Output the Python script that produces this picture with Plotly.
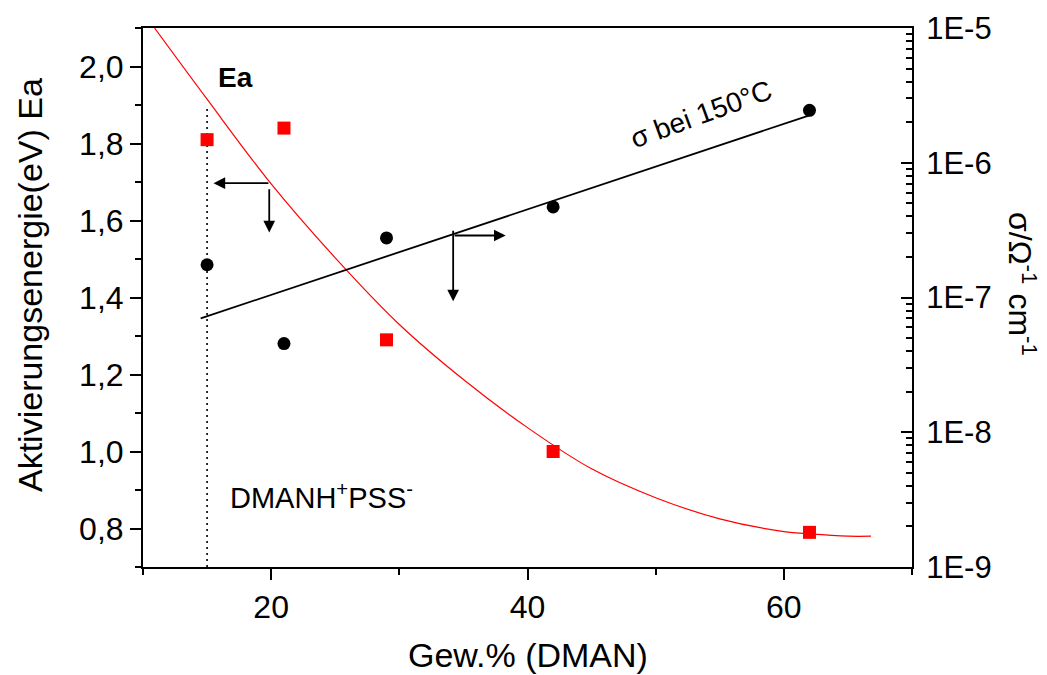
import plotly.graph_objects as go

# ---- data ----
gew = [15, 21, 29, 42, 62]                       # Gew.% (DMAN)
ea_vals = [1.81, 1.84, 1.29, 1.00, 0.79]          # Aktivierungsenergie (eV)
sigma_vals = [1.75e-7, 4.55e-8, 2.77e-7, 4.7e-7, 2.45e-6]  # sigma at 150 C

# red fit curve
ea_fit_x = [10.9, 15, 20, 25, 30, 35, 40, 45, 50, 55, 60, 62, 65, 66.8]
ea_fit_y = [2.10, 1.915, 1.695, 1.503, 1.330, 1.187, 1.062, 0.955, 0.880, 0.825, 0.792, 0.786, 0.780, 0.780]

# black fit line (log scale)
sig_fit_x = [14.5, 62]
sig_fit_y = [7.0e-8, 2.25e-6]

# dotted marker line at 15 %
dot_x = [15, 15]
dot_y = [0.70, 1.89]

x_major = [20, 40, 60]
x_minor = [10, 30, 50, 70]
y2_ticks = [1e-9, 1e-8, 1e-7, 1e-6, 1e-5]
y2_text = ["1E-9", "1E-8", "1E-7", "1E-6", "1E-5"]
y2_minor = [k * 10.0 ** e for e in range(-9, -5) for k in range(2, 10)]

FONT = "Liberation Sans, Arial, sans-serif"

fig = go.Figure()

fig.add_trace(go.Scatter(x=dot_x, y=dot_y, mode="lines",
                         line=dict(color="black", width=1.6, dash="2px,4px"),
                         showlegend=False, hoverinfo="skip"))
fig.add_trace(go.Scatter(x=ea_fit_x, y=ea_fit_y, mode="lines",
                         line=dict(color="red", width=1.2, shape="spline"),
                         showlegend=False))
fig.add_trace(go.Scatter(x=gew, y=ea_vals, mode="markers",
                         marker=dict(symbol="square", color="red", size=13),
                         showlegend=False))
fig.add_trace(go.Scatter(x=sig_fit_x, y=sig_fit_y, mode="lines", yaxis="y2",
                         line=dict(color="black", width=1.8),
                         showlegend=False))
fig.add_trace(go.Scatter(x=gew, y=sigma_vals, mode="markers", yaxis="y2",
                         marker=dict(symbol="circle", color="black", size=13),
                         showlegend=False))

C = dict(xanchor="center", yanchor="middle", showarrow=False)
annotations = [
    dict(x=17.25, y=1.972, xref="x", yref="y", text="<b>Ea</b>",
         font=dict(size=28, family=FONT, color="black"), **C),
    dict(x=16.6, y=0.885, xref="x", yref="y", xanchor="left", yanchor="middle",
         text="DMANH<sup>+</sup>PSS<sup>-</sup>", showarrow=False,
         font=dict(size=29, family=FONT, color="black")),
    dict(x=53.5, y=1.875, xref="x", yref="y", text="σ bei 150°C", textangle=-20,
         font=dict(size=28, family=FONT, color="black"), **C),
    # axis titles
    dict(x=(30 - 143) / 769, y=(567 - 285) / 539, xref="paper", yref="paper",
         text="Aktivierungsenergie(eV) Ea", textangle=-90,
         font=dict(size=34, family=FONT, color="black"), **C),
    dict(x=(1022 - 143) / 769, y=(567 - 284) / 539, xref="paper", yref="paper",
         text="σ/Ω<sup>-1</sup> cm<sup>-1</sup>", textangle=90,
         font=dict(size=32, family=FONT, color="black"), **C),
    dict(x=0.5, y=(567 - 655) / 539, xref="paper", yref="paper",
         text="Gew.% (DMAN)",
         font=dict(size=34, family=FONT, color="black"), **C),
]

# arrows (tail -> head), in data coordinates
arrows = [
    ((19.9, 1.697), (15.5, 1.697)),
    ((19.85, 1.685), (19.85, 1.569)),
    ((34.2, 1.561), (38.3, 1.561)),
    ((34.2, 1.577), (34.2, 1.390)),
]
for (tx, ty), (hx, hy) in arrows:
    annotations.append(dict(x=hx, y=hy, ax=tx, ay=ty, xref="x", yref="y",
                            axref="x", ayref="y", text="", showarrow=True,
                            arrowhead=2, arrowsize=1.3, arrowwidth=1.8,
                            arrowcolor="black"))

fig.update_layout(
    width=1047, height=675,
    margin=dict(l=143, r=135, t=28, b=108),
    paper_bgcolor="white", plot_bgcolor="white",
    separators=",.",
    font=dict(family=FONT, color="black"),
    annotations=annotations,
    xaxis=dict(range=[10, 70], tickmode="array", tickvals=x_major,
               ticks="outside", ticklen=11, tickwidth=2, tickcolor="black",
               minor=dict(tickmode="array", tickvals=x_minor, ticks="outside",
                          ticklen=6, tickwidth=2, tickcolor="black"),
               showline=True, linecolor="black", linewidth=2, mirror=True,
               showgrid=False, zeroline=False,
               tickfont=dict(size=32, family=FONT, color="black")),
    yaxis=dict(range=[0.7, 2.1], tickmode="linear", tick0=0, dtick=0.2,
               tickformat=".1f",
               ticks="outside", ticklen=11, tickwidth=2, tickcolor="black",
               minor=dict(dtick=0.1, tick0=0, ticks="outside", ticklen=6,
                          tickwidth=2, tickcolor="black"),
               showline=True, linecolor="black", linewidth=2,
               showgrid=False, zeroline=False,
               tickfont=dict(size=32, family=FONT, color="black")),
    yaxis2=dict(type="log", range=[-9, -5], overlaying="y", side="right",
                tickmode="array", tickvals=y2_ticks, ticktext=y2_text,
                ticks="inside", ticklen=11, tickwidth=2, tickcolor="black",
                minor=dict(tickmode="array", tickvals=y2_minor, ticks="inside",
                           ticklen=6, tickwidth=2, tickcolor="black"),
                showline=True, linecolor="black", linewidth=2,
                showgrid=False, zeroline=False, ticklabelstandoff=6,
                tickfont=dict(size=31, family=FONT, color="black")),
)

fig.write_html("out.html")
